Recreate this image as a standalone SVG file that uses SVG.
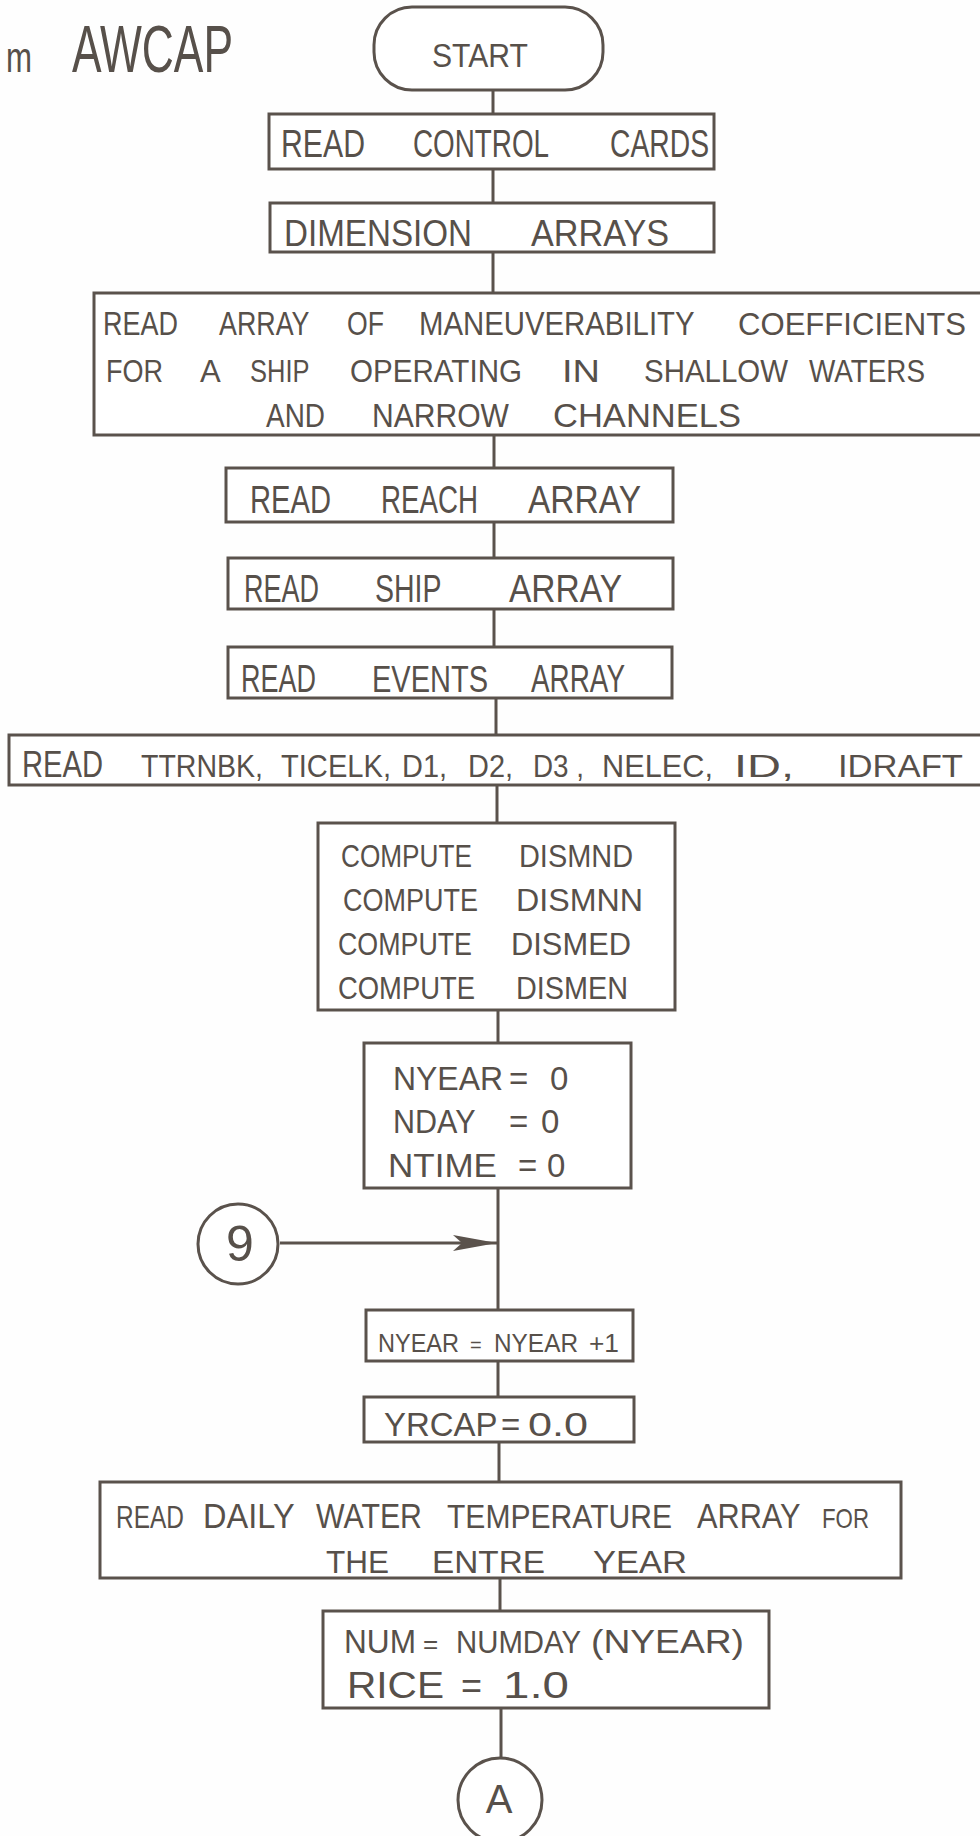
<svg xmlns="http://www.w3.org/2000/svg" width="980" height="1836" viewBox="0 0 980 1836">
<style>
.bx{fill:#ffffff;stroke:#5a524c;stroke-width:3}
.ln{fill:none;stroke:#5a524c;stroke-width:3}
text{font-family:"Liberation Sans",Arial,sans-serif;fill:#57504a;}
</style>
<defs>
<marker id="ah" markerUnits="userSpaceOnUse" markerWidth="48" markerHeight="20" refX="44" refY="9" orient="auto">
<path d="M0,1 L44,9 L0,17 L9,9 z" fill="#5a524c"/>
</marker>
</defs>
<rect x="0" y="0" width="980" height="1836" fill="#fefefe"/>

<g id="title">
<text x="6" y="72" font-size="42" textLength="26" lengthAdjust="spacingAndGlyphs">m</text>
<text x="72" y="72" font-size="66" textLength="161" lengthAdjust="spacingAndGlyphs">AWCAP</text>
</g>

<g id="connectors">
<line class="ln" x1="493" y1="90" x2="493" y2="114"/>
<line class="ln" x1="493" y1="169" x2="493" y2="203"/>
<line class="ln" x1="493" y1="252" x2="493" y2="293"/>
<line class="ln" x1="494" y1="435" x2="494" y2="468"/>
<line class="ln" x1="494" y1="522" x2="494" y2="558"/>
<line class="ln" x1="494" y1="609" x2="494" y2="647"/>
<line class="ln" x1="496" y1="698" x2="496" y2="735"/>
<line class="ln" x1="497" y1="785" x2="497" y2="823"/>
<line class="ln" x1="498" y1="1010" x2="498" y2="1043"/>
<line class="ln" x1="498" y1="1188" x2="498" y2="1310"/>
<line class="ln" x1="280" y1="1243" x2="497" y2="1243" marker-end="url(#ah)"/>
<line class="ln" x1="498" y1="1361" x2="498" y2="1397"/>
<line class="ln" x1="499" y1="1442" x2="499" y2="1482"/>
<line class="ln" x1="500" y1="1578" x2="500" y2="1611"/>
<line class="ln" x1="501" y1="1708" x2="501" y2="1758"/>
</g>

<g id="start">
<rect class="bx" x="374" y="7" width="229" height="83" rx="38" ry="38"/>
<text x="432" y="67" font-size="33" textLength="96" lengthAdjust="spacingAndGlyphs">START</text>
</g>

<g id="read-control-cards">
<rect class="bx" x="269" y="114" width="445" height="55"/>
<text y="157" font-size="38"><tspan x="281" textLength="84" lengthAdjust="spacingAndGlyphs">READ</tspan> <tspan x="413" textLength="135" lengthAdjust="spacingAndGlyphs">CONTROL</tspan> <tspan x="610" textLength="99" lengthAdjust="spacingAndGlyphs">CARDS</tspan></text>
</g>

<g id="dimension-arrays">
<rect class="bx" x="270" y="203" width="444" height="49"/>
<text y="246" font-size="37"><tspan x="284" textLength="188" lengthAdjust="spacingAndGlyphs">DIMENSION</tspan> <tspan x="531" textLength="138" lengthAdjust="spacingAndGlyphs">ARRAYS</tspan></text>
</g>

<g id="read-maneuverability">
<rect class="bx" x="94" y="293" width="900" height="142"/>
<text y="335" font-size="34"><tspan x="103" textLength="75" lengthAdjust="spacingAndGlyphs">READ</tspan> <tspan x="219" textLength="90" lengthAdjust="spacingAndGlyphs">ARRAY</tspan> <tspan x="347" textLength="37" lengthAdjust="spacingAndGlyphs">OF</tspan> <tspan x="419" textLength="275" lengthAdjust="spacingAndGlyphs">MANEUVERABILITY</tspan> <tspan x="738" font-size="32" textLength="228" lengthAdjust="spacingAndGlyphs">COEFFICIENTS</tspan></text>
<text y="382" font-size="32"><tspan x="106" textLength="57" lengthAdjust="spacingAndGlyphs">FOR</tspan> <tspan x="200" textLength="19" lengthAdjust="spacingAndGlyphs">A</tspan> <tspan x="250" textLength="59" lengthAdjust="spacingAndGlyphs">SHIP</tspan> <tspan x="350" textLength="172" lengthAdjust="spacingAndGlyphs">OPERATING</tspan> <tspan x="562" textLength="38" lengthAdjust="spacingAndGlyphs">IN</tspan> <tspan x="644" textLength="144" lengthAdjust="spacingAndGlyphs">SHALLOW</tspan> <tspan x="809" textLength="116" lengthAdjust="spacingAndGlyphs">WATERS</tspan></text>
<text y="427" font-size="33"><tspan x="266" textLength="59" lengthAdjust="spacingAndGlyphs">AND</tspan> <tspan x="372" textLength="137" lengthAdjust="spacingAndGlyphs">NARROW</tspan> <tspan x="553" textLength="188" lengthAdjust="spacingAndGlyphs">CHANNELS</tspan></text>
</g>

<g id="read-reach-array">
<rect class="bx" x="226" y="468" width="447" height="54"/>
<text y="513" font-size="38"><tspan x="250" textLength="81" lengthAdjust="spacingAndGlyphs">READ</tspan> <tspan x="381" textLength="97" lengthAdjust="spacingAndGlyphs">REACH</tspan> <tspan x="528" textLength="113" lengthAdjust="spacingAndGlyphs">ARRAY</tspan></text>
</g>

<g id="read-ship-array">
<rect class="bx" x="228" y="558" width="445" height="51"/>
<text y="602" font-size="38"><tspan x="244" textLength="75" lengthAdjust="spacingAndGlyphs">READ</tspan> <tspan x="375" textLength="66" lengthAdjust="spacingAndGlyphs">SHIP</tspan> <tspan x="509" textLength="113" lengthAdjust="spacingAndGlyphs">ARRAY</tspan></text>
</g>

<g id="read-events-array">
<rect class="bx" x="228" y="647" width="444" height="51"/>
<text y="692" font-size="38"><tspan x="241" textLength="75" lengthAdjust="spacingAndGlyphs">READ</tspan> <tspan x="372" font-size="36" textLength="116" lengthAdjust="spacingAndGlyphs">EVENTS</tspan> <tspan x="531" textLength="94" lengthAdjust="spacingAndGlyphs">ARRAY</tspan></text>
</g>

<g id="read-ttrnbk">
<rect class="bx" x="9" y="735" width="985" height="50"/>
<text y="777" font-size="32"><tspan x="22" textLength="81" lengthAdjust="spacingAndGlyphs" font-size="37">READ</tspan> <tspan x="141" textLength="122" lengthAdjust="spacingAndGlyphs">TTRNBK,</tspan> <tspan x="281" font-size="31" textLength="110" lengthAdjust="spacingAndGlyphs">TICELK,</tspan> <tspan x="402" textLength="45" lengthAdjust="spacingAndGlyphs">D1,</tspan> <tspan x="468" textLength="45" lengthAdjust="spacingAndGlyphs">D2,</tspan> <tspan x="533" textLength="51" lengthAdjust="spacingAndGlyphs">D3 ,</tspan> <tspan x="602" textLength="111" lengthAdjust="spacingAndGlyphs">NELEC,</tspan> <tspan x="734" textLength="60" lengthAdjust="spacingAndGlyphs">ID,</tspan> <tspan x="838" textLength="125" lengthAdjust="spacingAndGlyphs">IDRAFT</tspan></text>
</g>

<g id="compute">
<rect class="bx" x="318" y="823" width="357" height="187"/>
<text y="867" font-size="32"><tspan x="341" textLength="131" lengthAdjust="spacingAndGlyphs">COMPUTE</tspan> <tspan x="519" textLength="114" lengthAdjust="spacingAndGlyphs">DISMND</tspan></text>
<text y="911" font-size="32"><tspan x="343" textLength="135" lengthAdjust="spacingAndGlyphs">COMPUTE</tspan> <tspan x="516" textLength="127" lengthAdjust="spacingAndGlyphs">DISMNN</tspan></text>
<text y="955" font-size="32"><tspan x="338" textLength="134" lengthAdjust="spacingAndGlyphs">COMPUTE</tspan> <tspan x="511" textLength="120" lengthAdjust="spacingAndGlyphs">DISMED</tspan></text>
<text y="999" font-size="32"><tspan x="338" textLength="137" lengthAdjust="spacingAndGlyphs">COMPUTE</tspan> <tspan x="516" textLength="112" lengthAdjust="spacingAndGlyphs">DISMEN</tspan></text>
</g>

<g id="init-counters">
<rect class="bx" x="364" y="1043" width="267" height="145"/>
<text y="1090" font-size="33"><tspan x="393" textLength="110" lengthAdjust="spacingAndGlyphs">NYEAR</tspan> <tspan x="509">=</tspan> <tspan x="550">0</tspan></text>
<text y="1133" font-size="33"><tspan x="393" textLength="82" lengthAdjust="spacingAndGlyphs">NDAY</tspan> <tspan x="509">=</tspan> <tspan x="541">0</tspan></text>
<text y="1177" font-size="33"><tspan x="388" textLength="109" lengthAdjust="spacingAndGlyphs">NTIME</tspan> <tspan x="518">=</tspan> <tspan x="547">0</tspan></text>
</g>

<g id="connector-9">
<circle class="bx" cx="238" cy="1244" r="40"/>
<text x="240" y="1261" font-size="50" text-anchor="middle">9</text>
</g>

<g id="nyear-increment">
<rect class="bx" x="366" y="1310" width="267" height="51"/>
<text y="1352" font-size="26"><tspan x="378" textLength="81" lengthAdjust="spacingAndGlyphs">NYEAR</tspan> <tspan x="470" font-size="20">=</tspan> <tspan x="494" textLength="84" lengthAdjust="spacingAndGlyphs">NYEAR</tspan> <tspan x="589" textLength="30" lengthAdjust="spacingAndGlyphs">+1</tspan></text>
</g>

<g id="yrcap">
<rect class="bx" x="364" y="1397" width="270" height="45"/>
<text y="1436" font-size="33"><tspan x="384" textLength="113" lengthAdjust="spacingAndGlyphs">YRCAP</tspan> <tspan x="501">=</tspan> <tspan x="528" textLength="60" lengthAdjust="spacingAndGlyphs">0.0</tspan></text>
</g>

<g id="read-water-temp">
<rect class="bx" x="100" y="1482" width="801" height="96"/>
<text y="1528" font-size="35"><tspan x="116" font-size="31" textLength="68" lengthAdjust="spacingAndGlyphs">READ</tspan> <tspan x="203" textLength="91" lengthAdjust="spacingAndGlyphs">DAILY</tspan> <tspan x="316" textLength="106" lengthAdjust="spacingAndGlyphs">WATER</tspan> <tspan x="447" font-size="32.5" textLength="225" lengthAdjust="spacingAndGlyphs">TEMPERATURE</tspan> <tspan x="697" textLength="103" lengthAdjust="spacingAndGlyphs">ARRAY</tspan> <tspan x="822" textLength="47" lengthAdjust="spacingAndGlyphs" font-size="28">FOR</tspan></text>
<text y="1573" font-size="32"><tspan x="326" textLength="63" lengthAdjust="spacingAndGlyphs">THE</tspan> <tspan x="432" textLength="113" lengthAdjust="spacingAndGlyphs">ENTRE</tspan> <tspan x="593" textLength="94" lengthAdjust="spacingAndGlyphs">YEAR</tspan></text>
</g>

<g id="num-rice">
<rect class="bx" x="323" y="1611" width="446" height="97"/>
<text y="1653" font-size="34"><tspan x="344" textLength="72" lengthAdjust="spacingAndGlyphs">NUM</tspan> <tspan x="423" font-size="26">=</tspan> <tspan x="456" font-size="30.5" textLength="125" lengthAdjust="spacingAndGlyphs">NUMDAY</tspan> <tspan x="591" textLength="153" lengthAdjust="spacingAndGlyphs">(NYEAR)</tspan></text>
<text y="1698" font-size="36"><tspan x="347" textLength="97" lengthAdjust="spacingAndGlyphs">RICE</tspan> <tspan x="461">=</tspan> <tspan x="503" textLength="66" lengthAdjust="spacingAndGlyphs">1.0</tspan></text>
</g>

<g id="connector-A">
<circle class="bx" cx="500" cy="1800" r="42"/>
<text x="499" y="1813" font-size="40" text-anchor="middle">A</text>
</g>
</svg>
